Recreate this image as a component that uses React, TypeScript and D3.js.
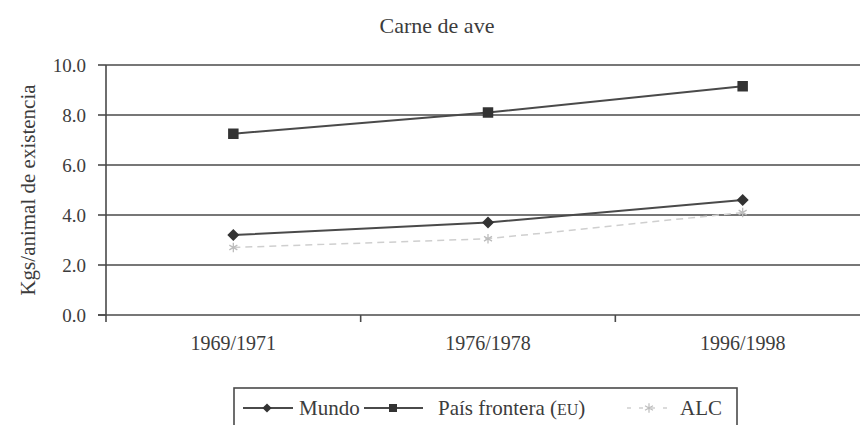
import * as d3 from "d3";

// data
const CATEGORIES = ["1969/1971", "1976/1978", "1996/1998"];
const MUNDO = [3.2, 3.7, 4.6];
const FRONTERA = [7.25, 8.1, 9.15];
const ALC = [2.7, 3.05, 4.1];
const Y_TICKS = [0, 2, 4, 6, 8, 10];

const W = 860;
const H = 425;
const FONT = "Liberation Serif";
const INK = "#3c3c3c";
const LINE = "#4a4a4a";
const FAINT = "#cfcfcf";

export default function App() {
  const m = { left: 106, right: -10, top: 65, bottom: 110 };

  const x = d3
    .scaleBand<string>()
    .domain(CATEGORIES)
    .range([m.left, W - m.right])
    .paddingInner(0)
    .paddingOuter(0);
  const y = d3.scaleLinear().domain([0, 10]).range([H - m.bottom, m.top]);

  const cx = (c: string) => (x(c) ?? 0) + x.bandwidth() / 2;

  const line = d3
    .line<number>()
    .x((_, i) => cx(CATEGORIES[i]))
    .y((d) => y(d));

  const diamond = d3.symbol(d3.symbolSquare, 72)();
  const square = d3.symbol(d3.symbolSquare, 110)();
  const star = d3.symbol(d3.symbolAsterisk, 60)();
  const legDiamond = d3.symbol(d3.symbolSquare, 42)();
  const legSquare = d3.symbol(d3.symbolSquare, 64)();

  const y0 = y(0);
  const legY = 408;
  const txt = { fontFamily: FONT };

  return (
    <svg
      width={W}
      height={H}
      style={{ position: "absolute", left: 0, top: 0, background: "#fff", fontFamily: FONT }}
    >
      {/* title */}
      <text x={437} y={33} textAnchor="middle" fontSize={22} fill={INK} style={txt}>
        Carne de ave
      </text>

      {/* gridlines */}
      {Y_TICKS.filter((t) => t > 0).map((t) => (
        <line
          key={t}
          x1={m.left}
          x2={W}
          y1={y(t)}
          y2={y(t)}
          stroke={LINE}
          strokeWidth={1.6}
        />
      ))}

      {/* y axis */}
      <line x1={m.left} x2={m.left} y1={y(10)} y2={y0 + 7} stroke={LINE} strokeWidth={1.6} />
      {Y_TICKS.map((t) => (
        <g key={t}>
          <line x1={m.left - 8} x2={m.left} y1={y(t)} y2={y(t)} stroke={LINE} strokeWidth={1.6} />
          <text
            x={86}
            y={y(t)}
            dy="0.35em"
            textAnchor="end"
            fontSize={19}
            fill={INK}
            style={txt}
          >
            {t.toFixed(1)}
          </text>
        </g>
      ))}
      <text
        transform={`translate(28,${(y(10) + y0) / 2}) rotate(-90)`}
        textAnchor="middle"
        dy="0.35em"
        fontSize={21}
        fill={INK}
        style={txt}
      >
        Kgs/animal de existencia
      </text>

      {/* x axis */}
      <line x1={m.left - 8} x2={W} y1={y0} y2={y0} stroke={LINE} strokeWidth={1.6} />
      {CATEGORIES.slice(1).map((c) => (
        <line
          key={c}
          x1={x(c) ?? 0}
          x2={x(c) ?? 0}
          y1={y0}
          y2={y0 + 7}
          stroke={LINE}
          strokeWidth={1.6}
        />
      ))}
      {CATEGORIES.map((c) => (
        <text key={c} x={cx(c)} y={350} textAnchor="middle" fontSize={20} fill={INK} style={txt}>
          {c}
        </text>
      ))}

      {/* ALC (faint) */}
      <path
        d={line(ALC) ?? ""}
        fill="none"
        stroke={FAINT}
        strokeWidth={1.5}
        strokeDasharray="7 5"
      />
      {ALC.map((v, i) => (
        <path
          key={i}
          d={star ?? ""}
          transform={`translate(${cx(CATEGORIES[i])},${y(v)})`}
          fill="none"
          stroke="#bdbdbd"
          strokeWidth={1.3}
        />
      ))}

      {/* Mundo */}
      <path d={line(MUNDO) ?? ""} fill="none" stroke={LINE} strokeWidth={2} />
      {MUNDO.map((v, i) => (
        <path
          key={i}
          d={diamond ?? ""}
          transform={`translate(${cx(CATEGORIES[i])},${y(v)}) rotate(45)`}
          fill="#333"
        />
      ))}

      {/* País frontera */}
      <path d={line(FRONTERA) ?? ""} fill="none" stroke={LINE} strokeWidth={2} />
      {FRONTERA.map((v, i) => (
        <path
          key={i}
          d={square ?? ""}
          transform={`translate(${cx(CATEGORIES[i])},${y(v)})`}
          fill="#333"
        />
      ))}

      {/* legend */}
      <rect
        x={234}
        y={388}
        width={503}
        height={50}
        fill="none"
        stroke={LINE}
        strokeWidth={1.6}
      />
      <line x1={243} x2={293} y1={legY} y2={legY} stroke={LINE} strokeWidth={2} />
      <path d={legDiamond ?? ""} transform={`translate(267,${legY}) rotate(45)`} fill="#333" />
      <text x={299} y={legY} dy="0.35em" fontSize={21} fill={INK} style={txt}>
        Mundo
      </text>

      <line x1={364} x2={423} y1={legY} y2={legY} stroke={LINE} strokeWidth={2} />
      <path d={legSquare ?? ""} transform={`translate(393,${legY})`} fill="#333" />
      <text x={438} y={legY} dy="0.35em" fontSize={21} fill={INK} style={txt}>
        País frontera (<tspan fontSize={16}>EU</tspan>)
      </text>

      <line
        x1={627}
        x2={668}
        y1={legY}
        y2={legY}
        stroke={FAINT}
        strokeWidth={1.5}
        strokeDasharray="4 8"
      />
      <path
        d={star ?? ""}
        transform={`translate(649,${legY})`}
        fill="none"
        stroke="#bdbdbd"
        strokeWidth={1.2}
      />
      <text x={680} y={legY} dy="0.35em" fontSize={21} fill={INK} style={txt}>
        ALC
      </text>
    </svg>
  );
}
